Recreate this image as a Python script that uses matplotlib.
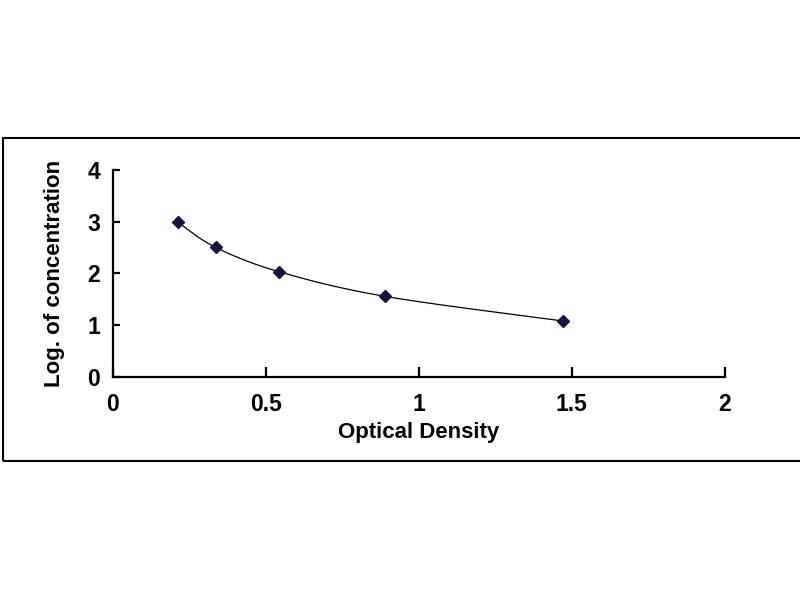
import numpy as np
import matplotlib
matplotlib.use("Agg")
import matplotlib.pyplot as plt
from matplotlib.patches import Rectangle

od = [0.212, 0.337, 0.544, 0.889, 1.472]
log_conc = [2.99, 2.50, 2.03, 1.555, 1.077]
x_ticks = [0, 0.5, 1, 1.5, 2]
x_tick_labels = ["0", "0.5", "1", "1.5", "2"]
y_ticks = [0, 1, 2, 3, 4]
y_tick_labels = ["0", "1", "2", "3", "4"]


def catmull_rom(xs, ys, n=40):
    p = np.column_stack([xs, ys])
    p = np.vstack([p[0], p, p[-1]])
    out = []
    for i in range(1, len(p) - 2):
        p0, p1, p2, p3 = p[i - 1], p[i], p[i + 1], p[i + 2]
        c1 = p1 + (p2 - p0) / 6.0
        c2 = p2 - (p3 - p1) / 6.0
        t = np.linspace(0, 1, n)[:, None]
        seg = ((1 - t) ** 3) * p1 + 3 * ((1 - t) ** 2) * t * c1 + 3 * (1 - t) * t ** 2 * c2 + t ** 3 * p2
        out.append(seg)
    s = np.vstack(out)
    return s[:, 0], s[:, 1]


plt.rcParams['font.family'] = ['Liberation Sans', 'DejaVu Sans']
plt.rcParams['font.weight'] = 'bold'

fig = plt.figure(figsize=(8, 6), dpi=100)
fig.patch.set_facecolor('white')

fig.patches.append(Rectangle((2.5 / 800, (600 - 461) / 600), 1.0, (461 - 137.5) / 600,
                             transform=fig.transFigure, fill=False,
                             edgecolor='black', linewidth=1.5, zorder=0))

ax = fig.add_axes([0.1409, 0.3722, 0.906 - 0.1409, 0.7167 - 0.3722])

cx, cy = catmull_rom(od, log_conc)
ax.plot(cx, cy, color='black', linewidth=0.9, zorder=2)
ax.plot(od, log_conc, linestyle='none', marker='D', markersize=6.2,
        color='#151540', zorder=3)

ax.set_xlim(0, 2)
ax.set_ylim(0, 4)
ax.set_xticks(x_ticks)
ax.set_xticklabels(x_tick_labels)
ax.set_yticks(y_ticks)
ax.set_yticklabels(y_tick_labels)

for s in ['top', 'right']:
    ax.spines[s].set_visible(False)
for s in ['left', 'bottom']:
    ax.spines[s].set_linewidth(1.6)
    ax.spines[s].set_color('black')

ax.tick_params(axis='x', direction='in', length=7, width=1.6, pad=12, labelsize=16.5)
ax.tick_params(axis='y', direction='in', length=5, width=1.6, pad=9, labelsize=16.5)
for lbl in ax.get_xticklabels() + ax.get_yticklabels():
    lbl.set_fontweight('bold')

ax.set_xlabel('Optical Density', fontsize=16, fontweight='bold', labelpad=4)
ax.set_ylabel('Log. of concentration', fontsize=16, fontweight='bold', labelpad=16)

fig.savefig('out.png', dpi=100, facecolor='white')
